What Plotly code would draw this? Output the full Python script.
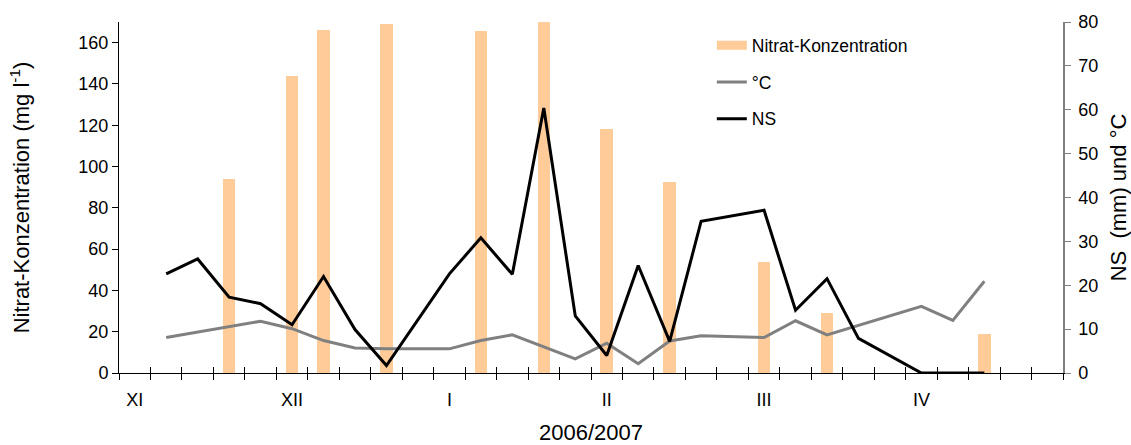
import plotly.graph_objects as go

# Sampling periods (one slot per sampling date, winter 2006/2007)
periods = list(range(30))
month_ticks = [0, 5, 10, 15, 20, 25]
month_labels = ["XI", "XII", "I", "II", "III", "IV"]

# Nitrate concentration in mg/l (left axis); None = no sample
nitrat = [None, None, None, 94.2, None, 143.7, 166.3, None, 168.8, None,
          None, 165.8, None, 170.0, None, 118.2, None, 92.6, None, None,
          53.8, None, 29.0, None, None, None, None, 19.1, None, None]

# Air temperature in °C (right axis)
temp = [None, 8.1, 9.3, 10.5, 11.8, 10.1, 7.4, 5.7, 5.5, None,
        5.5, 7.4, 8.7, 5.9, 3.2, 6.8, 2.1, 7.3, 8.5, None,
        8.1, 11.9, 8.7, 10.9, None, 15.2, 12.0, 20.9, None, None]

# Precipitation NS in mm (right axis)
ns = [None, 22.6, 26.0, 17.3, 15.8, 11.0, 22.0, 9.9, 1.7, None,
      22.6, 30.8, 22.5, 60.4, 13.0, 4.0, 24.5, 7.2, 34.6, None,
      37.1, 14.3, 21.5, 7.9, None, 0.0, 0.0, 0.0, None, None]

FONT = "Liberation Sans, Arial, sans-serif"
BAR_COLOR = "#FFCC99"

fig = go.Figure()
fig.add_trace(go.Bar(
    x=periods, y=nitrat, name="Nitrat-Konzentration", width=0.4,
    marker=dict(color=BAR_COLOR, line=dict(width=0)),
    yaxis="y", xaxis="x", showlegend=False,
))
# wide flat legend key for the bar series
fig.add_trace(go.Scatter(
    x=[None], y=[None], name="Nitrat-Konzentration", mode="lines",
    line=dict(color=BAR_COLOR, width=9),
    yaxis="y", xaxis="x", legendgroup="a", hoverinfo="skip",
))
fig.add_trace(go.Scatter(
    x=periods, y=temp, name="°C", mode="lines", connectgaps=True,
    line=dict(color="#808080", width=3),
    yaxis="y2", xaxis="x", legendgroup="b",
))
fig.add_trace(go.Scatter(
    x=periods, y=ns, name="NS", mode="lines", connectgaps=True,
    line=dict(color="#000000", width=3),
    yaxis="y2", xaxis="x", legendgroup="c",
))
# empty traces so the tick-mark axes (crossing ticks) get drawn
for ax in ("x2", "x3"):
    fig.add_trace(go.Scatter(x=[], y=[], xaxis=ax, yaxis="y",
                             showlegend=False, hoverinfo="skip"))

xrange = [-0.5, 29.5]
tick_axis = dict(
    overlaying="x", anchor="y", side="bottom", range=xrange,
    tickmode="linear", tick0=-0.5, dtick=1,
    ticklen=6, tickcolor="black", tickwidth=1, showticklabels=False,
    showline=False, showgrid=False, zeroline=False,
)
fig.update_layout(
    width=1131, height=445,
    margin=dict(l=119, r=68, t=22, b=72, pad=0),
    paper_bgcolor="white", plot_bgcolor="white",
    font=dict(family=FONT, size=18, color="black"),
    showlegend=True,
    legend=dict(
        x=0.628, y=0.985, xanchor="left", yanchor="top",
        bgcolor="rgba(0,0,0,0)", font=dict(size=17.5),
        tracegroupgap=11, traceorder="grouped", itemwidth=30,
    ),
    bargap=0,
    xaxis=dict(
        range=xrange, tickmode="array", tickvals=month_ticks,
        ticktext=month_labels, ticks="", ticklabelstandoff=10,
        showline=True, linecolor="black", linewidth=1,
        showgrid=False, zeroline=False,
        title=dict(text="2006/2007", standoff=24),
        automargin=False,
    ),
    xaxis2=dict(tick_axis, ticks="outside"),
    xaxis3=dict(tick_axis, ticks="inside"),
    yaxis=dict(
        range=[0, 170], tickmode="array", tickvals=list(range(0, 161, 20)),
        ticks="outside", ticklen=6, tickcolor="black",
        showline=True, linecolor="black", linewidth=1,
        showgrid=False, zeroline=False, automargin=False,
        title=dict(text="Nitrat-Konzentration (mg l<sup>-1</sup>)", standoff=42),
    ),
    yaxis2=dict(
        overlaying="y", side="right", anchor="x", range=[0, 80], dtick=10,
        ticks="outside", ticklen=6, tickcolor="#808080", ticklabelstandoff=4,
        showline=True, linecolor="#808080", linewidth=1.5,
        showgrid=False, zeroline=False, automargin=False,
        title=dict(text="NS\u00a0 (mm) und °C", standoff=16),
    ),
)

fig.write_html("out.html")
